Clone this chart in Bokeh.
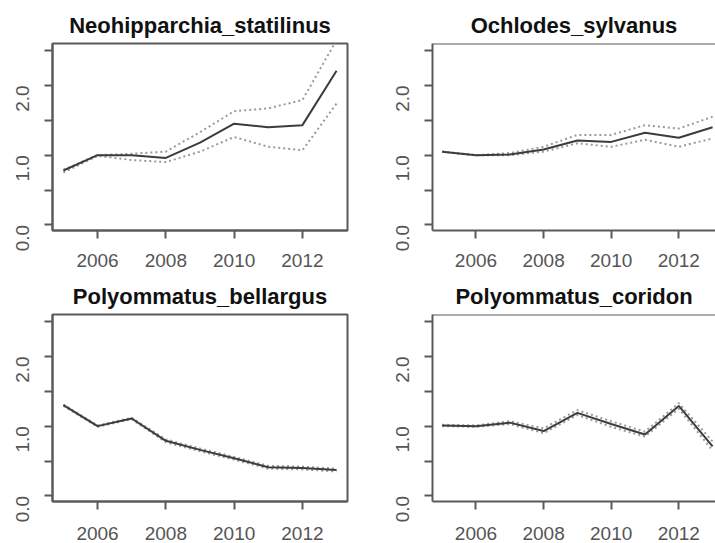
import math
from bokeh.plotting import figure
from bokeh.layouts import column, row
from bokeh.models import Range1d, FixedTicker, CustomJSTickFormatter, Span
from bokeh.embed import file_html
from bokeh.resources import INLINE

years = [2005, 2006, 2007, 2008, 2009, 2010, 2011, 2012, 2013]

titles = ["Neohipparchia_statilinus", "Ochlodes_sylvanus",
          "Polyommatus_bellargus", "Polyommatus_coridon"]

neo_mid = [0.78, 1.00, 1.00, 0.96, 1.18, 1.45, 1.40, 1.43, 2.21]
neo_hi = [0.79, 1.00, 1.02, 1.05, 1.33, 1.63, 1.67, 1.79, 2.65]
neo_lo = [0.75, 0.99, 0.93, 0.90, 1.05, 1.26, 1.12, 1.07, 1.74]

och_mid = [1.05, 1.00, 1.01, 1.08, 1.21, 1.19, 1.32, 1.25, 1.40]
och_hi = [1.05, 1.00, 1.03, 1.12, 1.29, 1.29, 1.43, 1.38, 1.55]
och_lo = [1.05, 1.00, 1.00, 1.05, 1.17, 1.12, 1.22, 1.12, 1.24]

bel_mid = [1.30, 1.00, 1.11, 0.79, 0.66, 0.54, 0.41, 0.40, 0.37]
bel_hi = [1.31, 1.01, 1.12, 0.81, 0.68, 0.56, 0.43, 0.42, 0.39]
bel_lo = [1.29, 0.99, 1.10, 0.77, 0.64, 0.52, 0.39, 0.38, 0.35]

cor_mid = [1.01, 1.00, 1.05, 0.93, 1.19, 1.03, 0.88, 1.29, 0.71]
cor_hi = [1.02, 1.01, 1.07, 0.97, 1.23, 1.07, 0.92, 1.33, 0.78]
cor_lo = [1.00, 0.99, 1.03, 0.90, 1.16, 0.99, 0.85, 1.25, 0.65]

series = [(neo_mid, neo_hi, neo_lo), (och_mid, och_hi, och_lo),
          (bel_mid, bel_hi, bel_lo), (cor_mid, cor_hi, cor_lo)]

y_ticks = [0, 0.5, 1.0, 1.5, 2.0, 2.5]
x_ticks = [2006, 2008, 2010, 2012]
Y_MIN, Y_MAX = -0.08, 2.6

FONT = "Liberation Sans"
BOX = "#5a5a5a"
LABEL = "#555555"


def make(idx):
    left_col = idx % 2 == 0
    top_row = idx < 2
    if left_col:
        width = 380
        xr = Range1d(2004.68, 2013.32)
        mbl, mbr = 52, 33
    else:
        width = 335
        xr = Range1d(2004.713, 2013.086)
        mbl, mbr = 52, 0
    if top_row:
        height = 271
        mbb = 41
    else:
        height = 272
        mbb = 42
    p = figure(width=width, height=height, x_range=xr,
               y_range=Range1d(Y_MIN, Y_MAX), output_backend="svg",
               toolbar_location=None, tools="", title=titles[idx],
               min_border_left=mbl, min_border_right=mbr,
               min_border_top=43, min_border_bottom=mbb)
    p.grid.visible = False
    p.background_fill_color = "white"
    p.border_fill_color = "white"
    p.title.text_font = FONT
    p.title.text_font_size = "22px"
    p.title.text_font_style = "bold"
    p.title.text_color = "#111111"
    p.title.align = "center"
    p.title.standoff = 12
    if left_col:
        p.outline_line_color = BOX
        p.outline_line_width = 2
    else:
        p.outline_line_color = None
        p.add_layout(Span(location=Y_MAX, dimension="width",
                          line_color=BOX, line_width=2))

    xa = p.below[0]
    xa.ticker = FixedTicker(ticks=x_ticks)
    ya = p.left[0]
    ya.ticker = FixedTicker(ticks=y_ticks)
    ya.formatter = CustomJSTickFormatter(
        code="return (Math.abs(tick - Math.round(tick)) < 1e-9) ? tick.toFixed(1) : '';")
    ya.major_label_orientation = math.pi / 2
    for ax in (xa, ya):
        ax.axis_line_color = BOX
        ax.axis_line_width = 2
        ax.major_tick_line_color = BOX
        ax.major_tick_line_width = 2
        ax.major_tick_out = 8
        ax.major_tick_in = 0
        ax.minor_tick_line_color = None
        ax.major_label_text_font = FONT
        ax.major_label_text_font_size = "19px"
        ax.major_label_text_color = LABEL
    xa.major_label_standoff = 15 if top_row else 17
    ya.major_label_standoff = 22

    mid, hi, lo = series[idx]
    p.line(years, hi, line_color="#9a9a9a", line_width=2, line_dash="2 3")
    p.line(years, lo, line_color="#9a9a9a", line_width=2, line_dash="2 3")
    p.line(years, mid, line_color="#3c3c3c", line_width=2)
    return p


plots = [make(i) for i in range(4)]
layout = column(row(plots[0], plots[1], spacing=0),
                row(plots[2], plots[3], spacing=0), spacing=0)

open("out.html", "w").write(file_html(layout, INLINE))
